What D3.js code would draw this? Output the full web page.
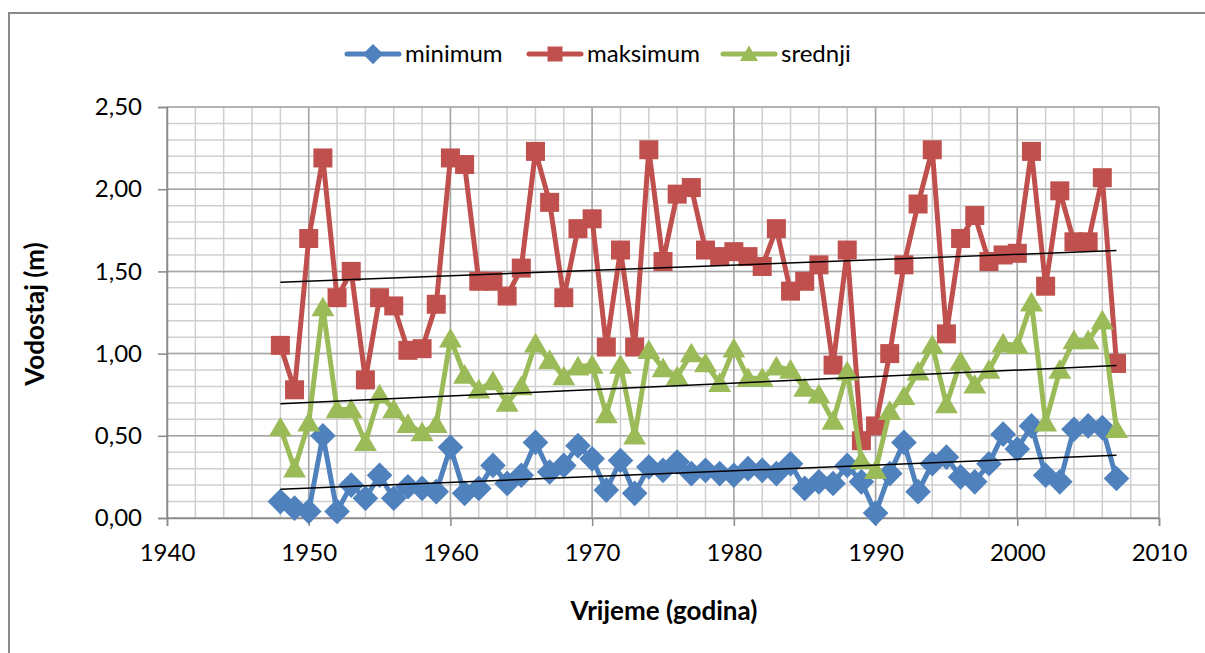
<!DOCTYPE html>
<html>
<head>
<meta charset="utf-8">
<script src="https://cdn.jsdelivr.net/npm/d3@7"></script>
<style>
  html, body { margin: 0; padding: 0; background: #fff; }
  text { font-family: Lato, "Open Sans", sans-serif; fill: #000; }
</style>
</head>
<body>
<div id="chart"></div>
<script>
const years = [1948, 1949, 1950, 1951, 1952, 1953, 1954, 1955, 1956, 1957,
    1958, 1959, 1960, 1961, 1962, 1963, 1964, 1965, 1966, 1967,
    1968, 1969, 1970, 1971, 1972, 1973, 1974, 1975, 1976, 1977,
    1978, 1979, 1980, 1981, 1982, 1983, 1984, 1985, 1986, 1987,
    1988, 1989, 1990, 1991, 1992, 1993, 1994, 1995, 1996, 1997,
    1998, 1999, 2000, 2001, 2002, 2003, 2004, 2005, 2006, 2007];

const minimum = [0.10, 0.06, 0.04, 0.50, 0.04, 0.20, 0.12, 0.26, 0.12, 0.19,
    0.18, 0.16, 0.43, 0.15, 0.18, 0.32, 0.21, 0.26, 0.46, 0.28,
    0.32, 0.44, 0.36, 0.17, 0.35, 0.15, 0.31, 0.29, 0.34, 0.27,
    0.29, 0.27, 0.26, 0.30, 0.29, 0.27, 0.33, 0.18, 0.22, 0.21,
    0.32, 0.22, 0.03, 0.27, 0.46, 0.16, 0.33, 0.37, 0.25, 0.22,
    0.33, 0.51, 0.42, 0.56, 0.26, 0.22, 0.54, 0.56, 0.55, 0.24];

const maksimum = [1.05, 0.78, 1.70, 2.19, 1.34, 1.50, 0.84, 1.34, 1.29, 1.02,
    1.03, 1.30, 2.19, 2.15, 1.44, 1.44, 1.35, 1.52, 2.23, 1.92,
    1.34, 1.76, 1.82, 1.04, 1.63, 1.04, 2.24, 1.56, 1.97, 2.01,
    1.63, 1.59, 1.62, 1.59, 1.53, 1.76, 1.38, 1.44, 1.54, 0.93,
    1.63, 0.47, 0.56, 1.00, 1.54, 1.91, 2.24, 1.12, 1.70, 1.84,
    1.56, 1.60, 1.61, 2.23, 1.41, 1.99, 1.68, 1.68, 2.07, 0.94];

const srednji = [0.55, 0.30, 0.58, 1.28, 0.66, 0.66, 0.46, 0.75, 0.66, 0.57,
    0.52, 0.57, 1.09, 0.87, 0.78, 0.83, 0.70, 0.80, 1.06, 0.96,
    0.86, 0.92, 0.93, 0.63, 0.93, 0.50, 1.02, 0.91, 0.86, 1.00,
    0.94, 0.82, 1.03, 0.85, 0.85, 0.92, 0.90, 0.79, 0.75, 0.59,
    0.89, 0.35, 0.29, 0.65, 0.74, 0.89, 1.05, 0.69, 0.95, 0.81,
    0.90, 1.06, 1.05, 1.31, 0.58, 0.90, 1.08, 1.08, 1.20, 0.54];

const xTicks = [1940, 1950, 1960, 1970, 1980, 1990, 2000, 2010];
const yTicks = [0, 0.5, 1.0, 1.5, 2.0, 2.5];

const series = [
    { name: "minimum", values: minimum, color: "#4F81BD", marker: "diamond" },
    { name: "maksimum", values: maksimum, color: "#C0504D", marker: "square" },
    { name: "srednji", values: srednji, color: "#9BBB59", marker: "triangle" }
];

const W = 1205, H = 653;
const margin = { left: 167, top: 107, right: 46, bottom: 135 };
const width = W - margin.left - margin.right;
const height = H - margin.top - margin.bottom;

const svg = d3.select("#chart").append("svg")
    .attr("width", W)
    .attr("height", H);

// chart frame, cut off at right and bottom like the original
svg.append("rect")
    .attr("x", 9).attr("y", 13)
    .attr("width", W + 20).attr("height", H + 20)
    .attr("fill", "#fff")
    .attr("stroke", "#8a8a8a")
    .attr("stroke-width", 2);

const g = svg.append("g").attr("transform", `translate(${margin.left},${margin.top})`);

const xScale = d3.scaleLinear().domain([1940, 2010]).range([0, width]);
const yScale = d3.scaleLinear().domain([0, 2.5]).range([height, 0]);

// minor grid
const xMinor = d3.range(1940, 2011, 2);
const yMinor = d3.range(0, 26).map(d => d / 10);
g.selectAll(".xMinor").data(xMinor).enter().append("line")
    .attr("x1", d => xScale(d)).attr("x2", d => xScale(d))
    .attr("y1", 0).attr("y2", height)
    .attr("stroke", "#cfcfcf").attr("stroke-width", 1.5);
g.selectAll(".yMinor").data(yMinor).enter().append("line")
    .attr("x1", 0).attr("x2", width)
    .attr("y1", d => yScale(d)).attr("y2", d => yScale(d))
    .attr("stroke", "#cfcfcf").attr("stroke-width", 1.5);

// major grid
g.selectAll(".xMajor").data(xTicks).enter().append("line")
    .attr("x1", d => xScale(d)).attr("x2", d => xScale(d))
    .attr("y1", 0).attr("y2", height)
    .attr("stroke", "#a6a6a6").attr("stroke-width", 1.5);
g.selectAll(".yMajor").data(yTicks).enter().append("line")
    .attr("x1", 0).attr("x2", width)
    .attr("y1", d => yScale(d)).attr("y2", d => yScale(d))
    .attr("stroke", "#a6a6a6").attr("stroke-width", 1.5);

// axes
const fmt = d => d3.format(".2f")(d).replace(".", ",");
const yAxis = g.append("g")
    .call(d3.axisLeft(yScale).tickValues(yTicks).tickFormat(fmt).tickSize(9).tickPadding(16));
const xAxis = g.append("g")
    .attr("transform", `translate(0,${height})`)
    .call(d3.axisBottom(xScale).tickValues(xTicks).tickFormat(d3.format("d")).tickSize(8).tickPadding(18));
[xAxis, yAxis].forEach(a => {
    a.select(".domain").attr("stroke", "#8a8a8a").attr("stroke-width", 1.5);
    a.selectAll(".tick line").attr("stroke", "#8a8a8a").attr("stroke-width", 1.5);
    a.selectAll(".tick text").attr("font-size", "24px").attr("font-family", "Lato, sans-serif").attr("fill", "#000");
});

// markers
function markerPath(type, s) {
    if (type === "square") return `M${-s},${-s}H${s}V${s}H${-s}Z`;
    if (type === "diamond") { const r = s * 1.35; return `M0,${-r}L${r},0L0,${r}L${-r},0Z`; }
    const r = s * 1.15;
    return `M0,${-r}L${r * 1.05},${r * 0.8}L${-r * 1.05},${r * 0.8}Z`;
}

const line = d3.line().x(d => xScale(d.year)).y(d => yScale(d.value));

series.forEach(s => {
    const pts = years.map((y, i) => ({ year: y, value: s.values[i] }));
    g.append("path")
        .datum(pts)
        .attr("fill", "none")
        .attr("stroke", s.color)
        .attr("stroke-width", 5)
        .attr("stroke-linejoin", "round")
        .attr("d", line);
    g.selectAll(".m-" + s.name)
        .data(pts)
        .enter().append("path")
        .attr("transform", d => `translate(${xScale(d.year)},${yScale(d.value)})`)
        .attr("d", markerPath(s.marker, 9.5))
        .attr("fill", s.color);
});

// linear trend lines
series.forEach(s => {
    const n = years.length;
    const mx = d3.mean(years), my = d3.mean(s.values);
    let num = 0, den = 0;
    years.forEach((y, i) => { num += (y - mx) * (s.values[i] - my); den += (y - mx) * (y - mx); });
    const slope = num / den, icpt = my - slope * mx;
    const ends = [years[0], years[n - 1]];
    g.append("line")
        .attr("x1", xScale(ends[0])).attr("y1", yScale(icpt + slope * ends[0]))
        .attr("x2", xScale(ends[1])).attr("y2", yScale(icpt + slope * ends[1]))
        .attr("stroke", "#000").attr("stroke-width", 1.5);
});

// axis titles
svg.append("text")
    .attr("transform", "translate(44,314) rotate(-90)")
    .attr("text-anchor", "middle")
    .attr("font-size", "26px").attr("font-weight", "bold")
    .text("Vodostaj (m)");
svg.append("text")
    .attr("x", 664).attr("y", 620)
    .attr("text-anchor", "middle")
    .attr("font-size", "26px").attr("font-weight", "bold")
    .text("Vrijeme (godina)");

// legend
const legendX = [347, 529, 723];
const legend = svg.selectAll(".legend").data(series).enter().append("g")
    .attr("transform", (d, i) => `translate(${legendX[i]},54)`);
legend.append("line")
    .attr("x1", 0).attr("x2", 52)
    .attr("stroke", d => d.color).attr("stroke-width", 5)
    .attr("stroke-linecap", "round");
legend.append("path")
    .attr("transform", "translate(26,0)")
    .attr("d", d => markerPath(d.marker, 7.5))
    .attr("fill", d => d.color);
legend.append("text")
    .attr("x", 58).attr("y", 0)
    .attr("dy", "0.35em")
    .attr("font-size", "24px")
    .text(d => d.name);
</script>
</body>
</html>
